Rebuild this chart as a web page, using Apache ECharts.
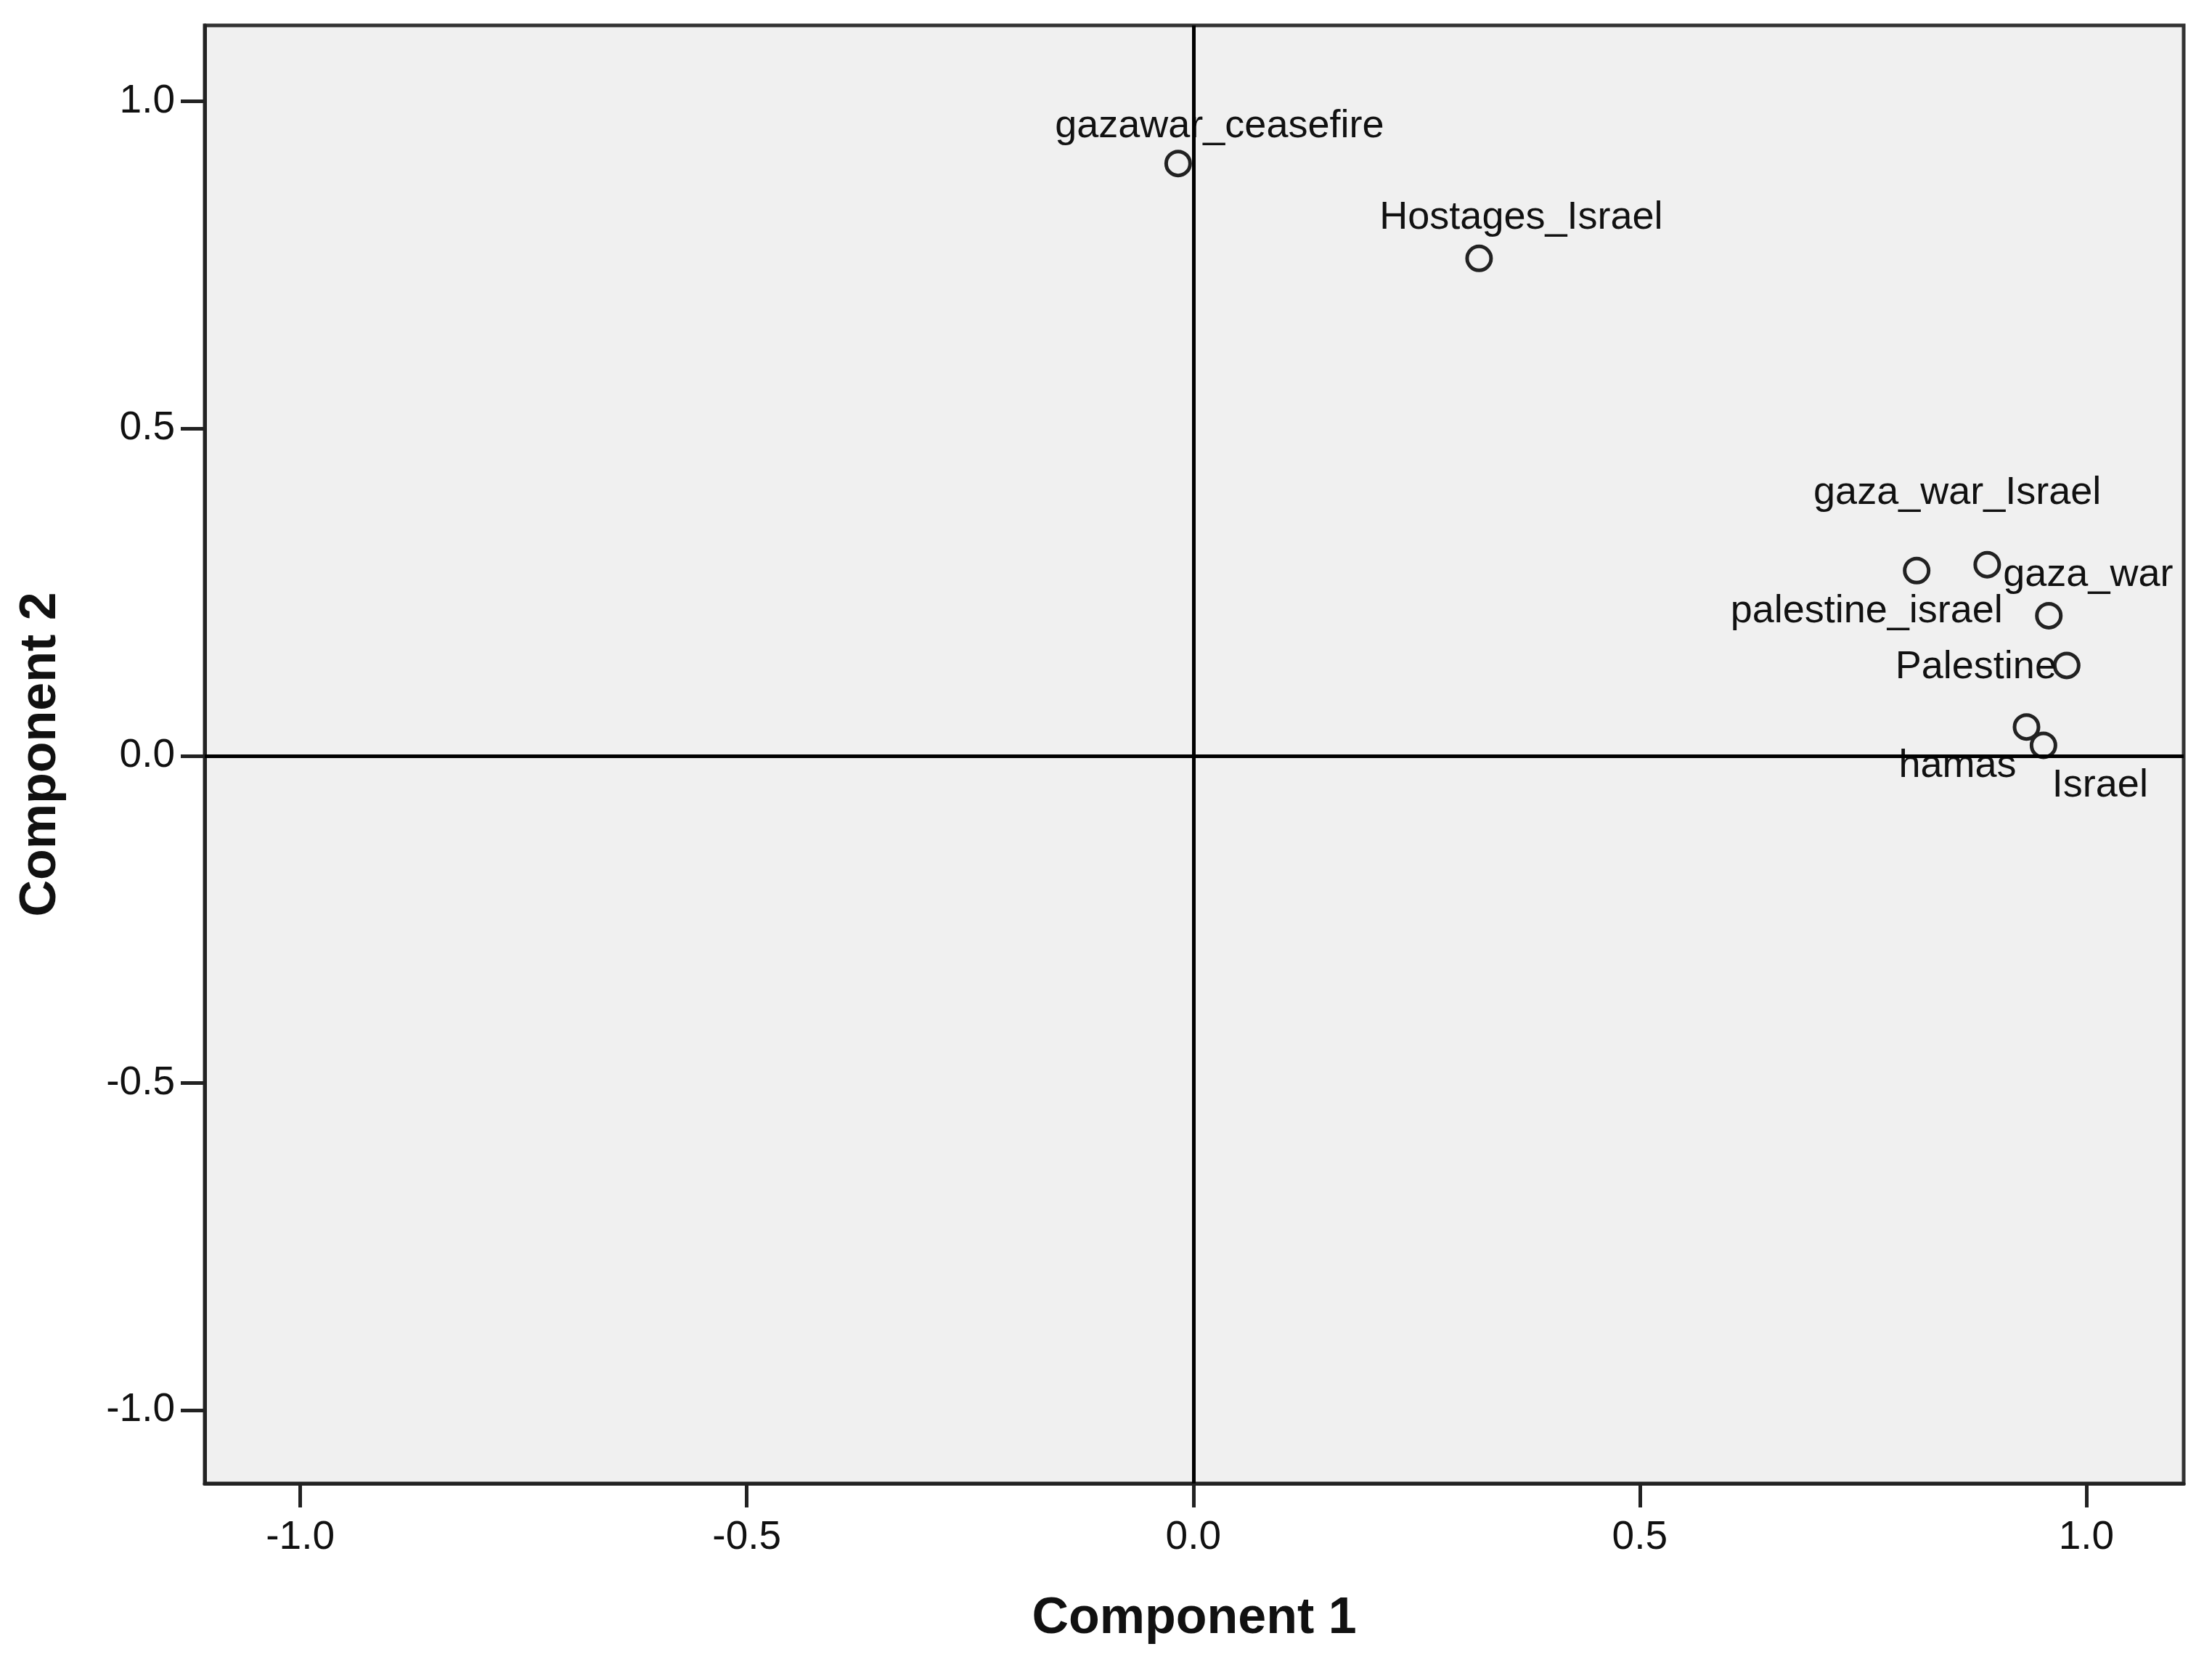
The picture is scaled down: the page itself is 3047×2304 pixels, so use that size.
<!DOCTYPE html>
<html>
<head>
<meta charset="utf-8">
<script src="https://cdn.jsdelivr.net/npm/echarts@6/dist/echarts.min.js"></script>
<style>
html,body{margin:0;padding:0;background:#fff;}
#chart{width:3047px;height:2304px;}
</style>
</head>
<body>
<div id="chart"></div>
<script>
// ---- data (component loadings) ----
const variableNames = ["gazawar_ceasefire", "Hostages_Israel", "gaza_war_Israel", "gaza_war", "palestine_israel", "Palestine", "hamas", "Israel"];
const component1 = [-0.017, 0.320, 0.810, 0.889, 0.958, 0.978, 0.933, 0.952];
const component2 = [0.905, 0.760, 0.283, 0.292, 0.214, 0.138, 0.044, 0.016];
const tickValues = [-1.0, -0.5, 0.0, 0.5, 1.0];

// ---- label placement (style only, pixel offsets from each point) ----
const labelOffsets = {
  "gazawar_ceasefire": [57, -51],
  "Hostages_Israel": [58, -56],
  "gaza_war_Israel": [56, -107],
  "gaza_war": [139, 14],
  "palestine_israel": [-251, -6],
  "Palestine": [-125, 3],
  "hamas": [-95, 54],
  "Israel": [78, 56]
};

const FONT = '"Liberation Sans", Arial, sans-serif';
const points = variableNames.map((n, i) => ({ name: n, value: [component1[i], component2[i]] }));

const axisCommon = {
  type: 'value',
  splitLine: { show: false },
  axisLine: { show: true, onZero: false, lineStyle: { color: '#222', width: 5 } },
  axisTick: { show: true, length: 33, customValues: tickValues, lineStyle: { color: '#222', width: 5 } },
  axisLabel: {
    customValues: tickValues,
    formatter: v => Number(v).toFixed(1),
    color: '#111',
    fontFamily: FONT,
    fontSize: 55
  },
  nameLocation: 'middle',
  nameTextStyle: { color: '#111', fontFamily: FONT, fontSize: 70, fontWeight: 'bold' }
};

const chart = echarts.init(document.getElementById('chart'), null, { renderer: 'canvas' });
chart.setOption({
  backgroundColor: '#ffffff',
  animation: false,
  grid: {
    left: 282, right: 39, top: 35, bottom: 261,
    show: true, backgroundColor: '#F0F0F0', borderColor: '#333', borderWidth: 5
  },
  xAxis: Object.assign({}, axisCommon, {
    min: -1.107, max: 1.109,
    name: 'Component 1', nameGap: 152,
    axisLabel: Object.assign({}, axisCommon.axisLabel, { margin: 47 })
  }),
  yAxis: Object.assign({}, axisCommon, {
    min: -1.112, max: 1.116,
    name: 'Component 2', nameGap: 190,
    axisLabel: Object.assign({}, axisCommon.axisLabel, { margin: 41 })
  }),
  series: [{
    type: 'scatter',
    data: points,
    symbol: 'circle',
    symbolSize: 33,
    itemStyle: { color: '#F0F0F0', borderColor: '#222', borderWidth: 5, opacity: 1 },
    label: {
      show: true,
      position: 'inside',
      formatter: p => p.name,
      color: '#111',
      fontFamily: FONT,
      fontSize: 54,
      align: 'center',
      verticalAlign: 'middle'
    },
    labelLayout: function (params) {
      const off = labelOffsets[variableNames[params.dataIndex]] || [0, 0];
      return { dx: off[0], dy: off[1], hideOverlap: false };
    },
    z: 3,
    markLine: {
      silent: true,
      symbol: 'none',
      animation: false,
      label: { show: false },
      lineStyle: { color: '#000', width: 5, type: 'solid' },
      data: [{ xAxis: 0 }, { yAxis: 0 }]
    }
  }]
});
</script>
</body>
</html>
